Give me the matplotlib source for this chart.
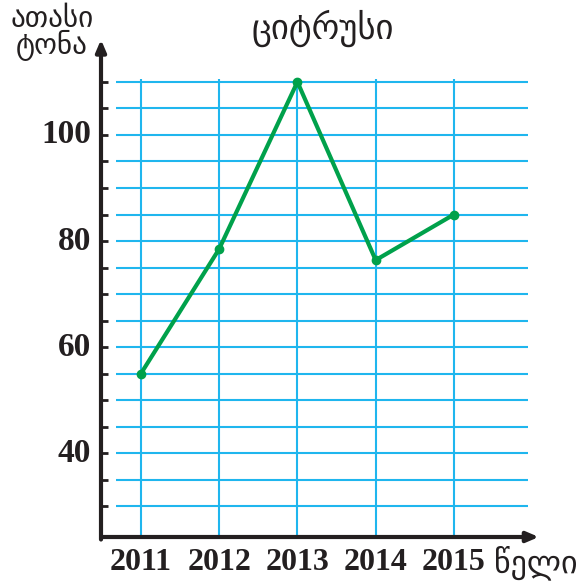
import matplotlib
matplotlib.use('Agg')
import matplotlib.pyplot as plt
import numpy as np

# DATA
years = [2011, 2012, 2013, 2014, 2015]
tonnes = [55, 78.5, 110, 76.4, 85]
y_ticks = [40, 60, 80, 100]
minor_ticks = list(range(30, 115, 5))

GRID = '#1fb6ee'
LINE = '#00a14b'
INK = '#231f20'

fig = plt.figure(figsize=(5.8, 5.87), dpi=100)
# axes placed in pixel terms of the 580x587 canvas
ax = fig.add_axes([101/580, 50/587, 439/580, 497/587])
ax.set_xlim(2010.49, 2016.1)
ax.set_ylim(24.2, 117.9)
for s in ax.spines.values():
    s.set_visible(False)
ax.set_xticks([])
ax.set_yticks([])

# grid
ax.hlines(minor_ticks, 2010.68, 2015.95, colors=GRID, lw=1.5, zorder=1)
ax.vlines(years, 24.2, 110.6, colors=GRID, lw=1.5, zorder=1)

# axes with arrows
ax.annotate('', xy=(2016.12, 24.2), xytext=(2010.46, 24.2),
            arrowprops=dict(arrowstyle='-|>,head_length=0.7,head_width=0.3', lw=3, color=INK),
            annotation_clip=False, zorder=3)
ax.annotate('', xy=(2010.49, 118.5), xytext=(2010.49, 23.2),
            arrowprops=dict(arrowstyle='-|>,head_length=0.7,head_width=0.3', lw=3, color=INK),
            annotation_clip=False, zorder=3)

# small tick marks on y axis
ax.hlines(minor_ticks, 2010.42, 2010.58, colors=INK, lw=2, zorder=3)

# data line
ax.plot(years, tonnes, color=LINE, lw=3, marker='o', markersize=6, zorder=4, clip_on=False)

# labels
for v in y_ticks:
    ax.text(2010.36, v, str(v), ha='right', va='center', fontsize=24,
            fontweight='bold', family='Liberation Serif', color=INK)
for yr in years:
    ax.text(yr, 19.3, str(yr), ha='center', va='center', fontsize=23,
            fontweight='bold', family='Liberation Serif', color=INK)

fig.text(323/580, 1 - 28/587, 'ციტრუსი', ha='center', va='center', fontsize=25,
         family='DejaVu Sans', color=INK)
fig.text(52/580, 1 - 33/587, 'ათასი\nტონა', ha='center', va='center', fontsize=21,
         family='DejaVu Sans', color=INK, linespacing=0.85)
fig.text(536/580, 1 - 563/587, 'წელი', ha='center', va='center', fontsize=23,
         family='DejaVu Sans', color=INK)

fig.savefig('out.png', dpi=100)
